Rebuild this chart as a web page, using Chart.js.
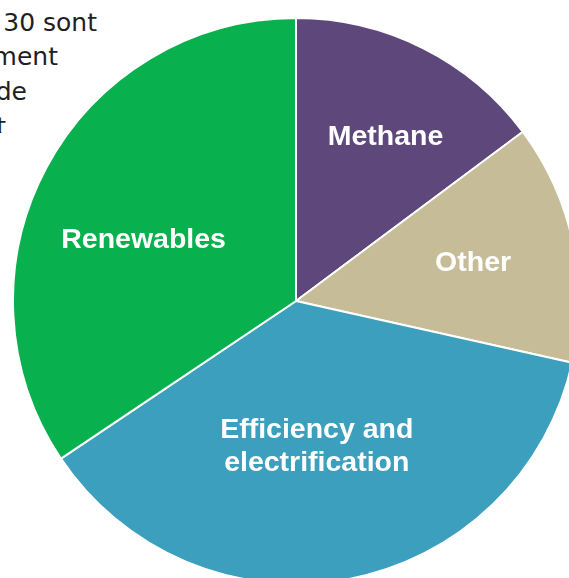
<!DOCTYPE html>
<html>
<head>
<meta charset="utf-8">
<script src="https://cdn.jsdelivr.net/npm/chart.js@4.4.1/dist/chart.umd.min.js"></script>
<style>
  html, body {
    margin: 0;
    padding: 0;
    width: 569px;
    height: 578px;
    overflow: hidden;
    background: #ffffff;
  }
  .intro {
    position: absolute;
    left: 0;
    top: 0;
    width: 569px;
    height: 133px;
    overflow: hidden;
  }
  .intro div {
    position: absolute;
    white-space: nowrap;
    font-family: "DejaVu Sans", sans-serif;
    font-size: 25px;
    line-height: 27px;
    color: #1f1f1f;
  }
  #pieWrap {
    position: absolute;
    left: 12px;
    top: 17px;
    width: 568px;
    height: 568px;
  }
</style>
</head>
<body>
<div class="intro">
  <div style="right: 472px; top: 9px;">30 sont</div>
  <div style="right: 511px; top: 43px;">ment</div>
  <div style="right: 542px; top: 78px;">de</div>
  <div style="right: 563px; top: 113px;">t</div>
</div>
<div id="pieWrap"><canvas id="pie" width="568" height="568"></canvas></div>
<script>
  const categories = ["Methane", "Other", "Efficiency and electrification", "Renewables"];
  const shares = [14.8, 13.7, 37.1, 34.4];
  const sliceColors = ["#5d477b", "#c6bd98", "#3b9fbd", "#08b04e"];

  // label placement inside each slice: radius fraction and small angle shift (deg)
  const labelLines = [["Methane"], ["Other"], ["Efficiency and", "electrification"], ["Renewables"]];
  const labelRadius = [0.66, 0.64, 0.52, 0.58];
  const labelShift = [2, 0, 2.5, -6.3];

  const sliceLabels = {
    id: "sliceLabels",
    afterDatasetsDraw(chart) {
      const ctx = chart.ctx;
      const arcs = chart.getDatasetMeta(0).data;
      ctx.save();
      ctx.fillStyle = "#ffffff";
      ctx.font = "bold 28.5px 'Liberation Sans', Arial, sans-serif";
      ctx.textAlign = "center";
      ctx.textBaseline = "middle";
      arcs.forEach((arc, i) => {
        const mid = (arc.startAngle + arc.endAngle) / 2 + labelShift[i] * Math.PI / 180;
        const r = arc.outerRadius * labelRadius[i];
        const x = arc.x + Math.cos(mid) * r;
        const y = arc.y + Math.sin(mid) * r;
        const lines = labelLines[i];
        const lh = 33;
        lines.forEach((t, j) => {
          ctx.fillText(t, x, y + (j - (lines.length - 1) / 2) * lh);
        });
      });
      ctx.restore();
    }
  };

  new Chart(document.getElementById("pie").getContext("2d"), {
    type: "pie",
    data: {
      labels: categories,
      datasets: [{
        data: shares,
        backgroundColor: sliceColors,
        borderColor: "#ffffff",
        borderWidth: 2
      }]
    },
    options: {
      responsive: false,
      animation: false,
      layout: { padding: 0 },
      plugins: {
        legend: { display: false },
        tooltip: { enabled: false }
      }
    },
    plugins: [sliceLabels]
  });
</script>
</body>
</html>
